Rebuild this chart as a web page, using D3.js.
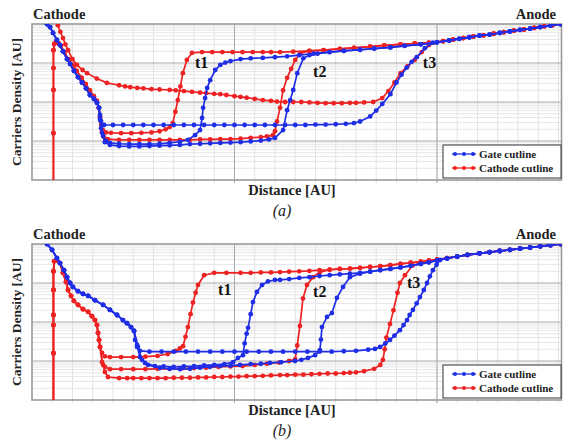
<!DOCTYPE html>
<html>
<head>
<meta charset="utf-8">
<script src="https://cdn.jsdelivr.net/npm/d3@7"></script>
<style>
body { margin: 0; background: #fff; }
text { font-family: "Liberation Serif", "Times New Roman", serif; }
</style>
</head>
<body>
<script>
// x: distance [AU], one unit per minor grid; y: log10 of carriers density [AU]

// ---- panel (a) ----
var gateDescA = [[0.74,4.0],[0.89,3.92],[1.04,3.77],[1.23,3.59],[1.38,3.46],[1.53,3.3],[1.73,3.1],[1.88,2.98],[2.07,2.8],[2.27,2.64],[2.47,2.5],[2.67,2.35],[2.86,2.18],[3.06,2.08],[3.21,1.98],[3.31,1.85]];
var gateTailA = [[13.2,3.2],[13.9,3.24],[14.7,3.28],[15.4,3.31],[16.2,3.34],[16.9,3.37],[17.7,3.4],[18.4,3.44],[19.2,3.48],[20.0,3.53],[20.6,3.58],[21.1,3.62],[21.6,3.66],[22.1,3.7],[22.6,3.73],[23.1,3.77],[23.6,3.81],[24.1,3.85],[24.6,3.88],[25.1,3.92],[25.6,3.96],[26.1,4.0]];
var gateA_t1 = [[3.36,1.59],[3.41,1.33],[3.51,1.13],[3.65,1.0],[3.85,0.95],[4.3,0.93],[4.8,0.92],[5.3,0.92],[5.8,0.92],[6.3,0.93],[6.8,0.95],[7.3,0.98],[7.7,1.03],[8.05,1.15],[8.3,1.28],[8.4,1.59],[8.45,1.85],[8.55,2.1],[8.65,2.36],[8.8,2.56],[9.05,2.82],[9.3,2.95],[9.55,3.01],[9.8,3.05],[10.3,3.1],[10.8,3.12],[11.4,3.13],[12.0,3.15],[12.6,3.17]];
var gateA_t2 = [[3.36,1.54],[3.46,1.21],[3.6,0.97],[3.85,0.9],[4.3,0.87],[4.8,0.86],[5.3,0.86],[5.8,0.87],[6.3,0.88],[6.8,0.89],[7.3,0.9],[7.8,0.92],[8.3,0.93],[8.8,0.94],[9.3,0.95],[9.8,0.96],[10.3,0.97],[10.8,0.99],[11.3,1.01],[11.7,1.04],[12.0,1.08],[12.4,1.28],[12.6,1.79],[12.75,2.05],[12.9,2.31],[13.1,2.74],[13.4,3.12],[13.7,3.2],[14.1,3.24]];
var gateA_t3 = [[3.36,1.67],[3.41,1.51],[3.56,1.41],[4.0,1.41],[4.5,1.41],[5.0,1.41],[5.5,1.41],[6.0,1.41],[6.5,1.41],[7.0,1.41],[7.5,1.41],[8.0,1.41],[8.5,1.41],[9.0,1.41],[9.5,1.41],[10.0,1.41],[10.5,1.41],[11.0,1.41],[11.5,1.41],[12.0,1.41],[12.5,1.41],[13.0,1.41],[13.5,1.41],[14.0,1.42],[14.5,1.42],[15.0,1.43],[15.5,1.44],[15.9,1.46],[16.2,1.5],[16.7,1.63],[17.0,1.78],[17.3,1.95],[17.7,2.2],[18.0,2.5],[18.25,2.7],[18.5,2.88],[18.75,3.03],[19.0,3.15],[19.4,3.38],[19.8,3.52]];

var cathDescA = [[1.06,-0.6],[1.06,1.2],[1.06,2.31],[1.06,2.87],[1.06,3.33],[1.1,3.49],[1.19,3.54],[1.3,3.51],[1.43,3.44],[1.6,3.28],[1.8,3.1],[2.0,2.95],[2.2,2.8],[2.45,2.62],[2.65,2.46],[2.85,2.3],[3.05,2.15],[3.2,2.03],[3.3,1.85],[3.36,1.62]];
var cathTailA = [[12.25,3.28],[12.9,3.29],[13.7,3.31],[14.4,3.33],[15.2,3.36],[15.9,3.39],[16.7,3.42],[17.4,3.45],[18.2,3.48],[18.9,3.5],[19.6,3.52],[20.3,3.56],[20.8,3.6],[21.3,3.64],[21.8,3.68],[22.3,3.71],[22.8,3.75],[23.3,3.79],[23.8,3.83],[24.3,3.86],[24.8,3.9],[25.3,3.94],[25.7,3.97],[26.1,4.0]];
var cathA_t1 = [[3.42,1.41],[3.5,1.28],[3.65,1.22],[3.9,1.21],[4.4,1.2],[4.9,1.2],[5.4,1.21],[5.9,1.22],[6.3,1.25],[6.6,1.3],[6.8,1.36],[6.95,1.46],[7.08,1.75],[7.2,2.05],[7.33,2.4],[7.45,2.74],[7.65,3.08],[7.9,3.26],[8.4,3.28],[8.9,3.28],[9.4,3.28],[9.9,3.28],[10.4,3.28],[10.9,3.28],[11.4,3.28],[11.8,3.28]];
var cathA_t2 = [[3.45,1.23],[3.55,1.1],[3.75,1.05],[4.3,1.03],[4.8,1.03],[5.3,1.03],[5.8,1.03],[6.3,1.03],[6.8,1.03],[7.3,1.03],[7.8,1.03],[8.3,1.04],[8.8,1.04],[9.3,1.05],[9.8,1.05],[10.3,1.06],[10.8,1.08],[11.3,1.1],[11.6,1.12],[11.9,1.15],[12.0,1.25],[12.1,1.5],[12.25,1.85],[12.4,2.3],[12.6,2.62],[12.8,2.85],[13.0,3.08],[13.25,3.25]];
var cathA_t3 = [[1.2,4.1],[1.28,3.97],[1.4,3.8],[1.53,3.64],[1.65,3.48],[1.78,3.33],[2.0,3.1],[2.22,2.95],[2.5,2.82],[2.72,2.74],[3.2,2.6],[3.7,2.49],[4.3,2.43],[4.6,2.4],[4.85,2.38],[5.2,2.36],[5.5,2.35],[5.9,2.33],[6.3,2.32],[6.8,2.31],[7.1,2.3],[7.5,2.28],[7.9,2.26],[8.3,2.24],[8.6,2.23],[9.0,2.21],[9.3,2.2],[9.6,2.18],[10.0,2.15],[10.3,2.13],[10.6,2.11],[11.0,2.08],[11.4,2.05],[11.8,2.03],[12.1,2.01],[12.5,2.0],[12.9,2.0],[13.3,2.0],[13.7,1.99],[14.1,1.98],[14.5,1.97],[14.9,1.97],[15.3,1.97],[15.7,1.98],[16.0,1.98],[16.4,1.99],[16.85,2.0],[17.3,2.1],[17.6,2.28],[17.9,2.5],[18.2,2.74],[18.55,2.92],[18.9,3.08],[19.25,3.28],[19.6,3.46]];

// ---- panel (b) ----
var gateDescB = [[0.74,4.0],[0.99,3.85],[1.23,3.64],[1.38,3.51],[1.58,3.33],[1.73,3.15],[1.88,3.0],[2.02,2.9],[2.27,2.79],[2.52,2.72],[2.77,2.67],[3.11,2.56],[3.51,2.44],[3.85,2.31],[4.2,2.18],[4.49,2.05],[4.69,1.97],[4.89,1.87],[5.04,1.77]];
var gateTailB = [[12.25,3.08],[12.7,3.1],[13.2,3.13],[13.7,3.15],[14.2,3.18],[14.7,3.2],[15.2,3.22],[15.7,3.24],[16.2,3.26],[16.7,3.29],[17.2,3.33],[17.7,3.36],[18.2,3.4],[18.7,3.44],[19.2,3.49],[19.6,3.53],[20.0,3.58],[20.5,3.63],[21.0,3.68],[21.5,3.72],[22.1,3.76],[22.6,3.79],[23.1,3.82],[23.6,3.85],[24.1,3.88],[24.6,3.91],[25.1,3.94],[25.6,3.97],[26.1,4.0]];
var gateB_t1 = [[5.19,1.41],[5.33,1.1],[5.58,0.95],[6.07,0.87],[6.5,0.86],[7.0,0.85],[7.5,0.86],[8.0,0.87],[8.5,0.89],[9.0,0.9],[9.5,0.92],[9.93,0.97],[10.17,1.08],[10.42,1.15],[10.5,1.45],[10.6,1.7],[10.67,1.85],[10.8,2.2],[10.91,2.51],[11.11,2.77],[11.36,2.95],[11.65,3.04],[12.0,3.08]];
var gateB_t2 = [[5.23,1.36],[5.43,1.03],[5.73,0.9],[6.32,0.82],[6.8,0.8],[7.31,0.79],[7.8,0.8],[8.3,0.83],[8.79,0.85],[9.3,0.87],[9.8,0.88],[10.27,0.9],[10.8,0.92],[11.3,0.93],[11.75,0.95],[12.3,0.97],[12.99,1.0],[13.3,1.03],[13.63,1.08],[13.98,1.15],[14.22,1.28],[14.27,1.55],[14.32,1.87],[14.57,2.13],[14.81,2.23],[15.06,2.62],[15.36,2.9],[15.7,3.15],[16.2,3.24]];
var gateB_t3 = [[5.09,1.54],[5.19,1.36],[5.33,1.26],[5.8,1.24],[6.4,1.24],[7.0,1.24],[7.6,1.24],[8.2,1.24],[8.8,1.24],[9.4,1.24],[10.0,1.24],[10.6,1.24],[11.2,1.24],[11.8,1.24],[12.4,1.24],[13.0,1.24],[13.6,1.24],[14.2,1.24],[14.8,1.24],[15.4,1.25],[16.0,1.26],[16.6,1.29],[16.94,1.31],[17.19,1.36],[17.45,1.45],[17.68,1.54],[17.9,1.65],[18.17,1.79],[18.35,1.92],[18.52,2.05],[18.65,2.18],[18.81,2.31],[19.0,2.48],[19.16,2.64],[19.35,2.82],[19.51,3.0],[19.65,3.17],[19.8,3.33],[19.98,3.47],[20.15,3.59]];

var cathDescB = [[1.06,-0.6],[1.06,1.2],[1.06,1.92],[1.06,2.18],[1.06,2.82],[1.06,3.3],[1.1,3.56],[1.23,3.59],[1.38,3.51],[1.53,3.26],[1.68,3.03],[1.78,2.82],[1.93,2.67],[2.07,2.54],[2.27,2.44],[2.52,2.33],[2.77,2.26],[2.96,2.15],[3.11,2.05],[3.21,1.92],[3.26,1.72],[3.31,1.54],[3.36,1.36]];
var cathTailB = [[10.3,3.26],[10.8,3.26],[11.3,3.27],[11.8,3.27],[12.25,3.28],[12.7,3.29],[13.2,3.3],[13.7,3.31],[14.2,3.33],[14.7,3.34],[15.2,3.36],[15.7,3.37],[16.2,3.39],[16.7,3.41],[17.2,3.43],[17.7,3.46],[18.2,3.49],[18.7,3.52],[19.2,3.55],[19.6,3.57],[20.0,3.6],[20.5,3.64],[21.0,3.68],[21.5,3.72],[22.1,3.76],[22.6,3.79],[23.1,3.82],[23.6,3.85],[24.1,3.88],[24.6,3.91],[25.1,3.94],[25.6,3.97],[26.1,4.0]];
var cathB_t1 = [[3.46,1.21],[3.6,1.12],[3.85,1.1],[4.4,1.1],[5.0,1.1],[5.6,1.11],[6.2,1.13],[6.7,1.18],[7.1,1.26],[7.3,1.32],[7.46,1.38],[7.58,1.62],[7.7,1.87],[7.83,2.2],[7.95,2.5],[8.08,2.75],[8.2,2.95],[8.5,3.2],[9.0,3.26],[9.6,3.26]];
var cathB_t2 = [[3.46,0.97],[3.6,0.85],[3.85,0.79],[4.4,0.79],[5.0,0.79],[5.6,0.79],[6.2,0.8],[6.8,0.8],[7.4,0.81],[8.0,0.82],[8.6,0.83],[9.2,0.85],[9.8,0.86],[10.4,0.87],[11.0,0.9],[11.6,0.93],[12.2,0.96],[12.7,1.0],[13.0,1.05],[13.1,1.4],[13.23,1.9],[13.38,2.6],[13.58,2.95],[13.88,3.15],[14.22,3.28]];
var cathB_t3 = [[3.51,0.9],[3.6,0.72],[3.75,0.59],[4.3,0.56],[4.7,0.56],[5.0,0.56],[5.4,0.56],[5.8,0.56],[6.2,0.56],[6.6,0.56],[7.0,0.57],[7.4,0.57],[7.8,0.57],[8.2,0.58],[8.6,0.58],[9.0,0.59],[9.4,0.59],[9.8,0.6],[10.2,0.6],[10.6,0.61],[11.0,0.61],[11.4,0.62],[11.8,0.63],[12.25,0.64],[12.6,0.64],[13.0,0.65],[13.4,0.65],[13.8,0.66],[14.2,0.67],[14.6,0.68],[15.0,0.68],[15.4,0.69],[15.7,0.7],[16.0,0.71],[16.4,0.74],[16.9,0.8],[17.2,0.9],[17.33,1.03],[17.42,1.3],[17.5,1.6],[17.68,1.95],[17.85,2.3],[18.05,2.75],[18.17,3.0],[18.42,3.2],[18.8,3.45],[19.2,3.52]];

// time labels [text, x, log10 n]
var tLabelsA = [["t1", 8.05, 2.87], ["t2", 13.88, 2.64], ["t3", 19.3, 2.87]];
var tLabelsB = [["t1", 9.19, 2.69], ["t2", 13.88, 2.64], ["t3", 18.52, 2.87]];

var legendLabels = ["Gate cutline", "Cathode cutline"];
var BLUE = "#1f2ee6", RED = "#ee2222";

function join(head, mid, tail){
	var pts = head.concat(mid);
	var last = pts[pts.length-1][0];
	return pts.concat(tail.filter(function(d){ return d[0] > last; }));
}

var svg = d3.select("body").append("svg")
	.attr("width", 563)
	.attr("height", 445);

function drawPanel(top, gate, cath, tLabels, letter, id){
	var x = d3.scaleLinear().domain([0, 26.15]).range([32, 561.5]);
	var y = d3.scaleLinear().domain([0, 4]).range([top + 156, top]);
	var g = svg.append("g");

	g.append("clipPath").attr("id", id)
		.append("rect")
		.attr("x", x(0)).attr("y", y(4))
		.attr("width", x(26.15) - x(0)).attr("height", y(0) - y(4));

	// grid
	var minorY = [];
	for(var n = 0; n < 4; n++){
		for(var k = 2; k < 10; k++) minorY.push(n + Math.log10(k));
	}
	g.selectAll(".vminor").data(d3.range(1, 27)).enter().append("line")
		.attr("x1", function(d){ return x(d); }).attr("x2", function(d){ return x(d); })
		.attr("y1", y(4)).attr("y2", y(0) + 3)
		.attr("stroke", "#e2e2e2").attr("stroke-width", 1);
	g.selectAll(".hminor").data(minorY).enter().append("line")
		.attr("x1", x(0)).attr("x2", x(26.15))
		.attr("y1", function(d){ return y(d); }).attr("y2", function(d){ return y(d); })
		.attr("stroke", "#e6e6e6").attr("stroke-width", 1);
	g.selectAll(".vmajor").data([10, 20]).enter().append("line")
		.attr("x1", function(d){ return x(d); }).attr("x2", function(d){ return x(d); })
		.attr("y1", y(4)).attr("y2", y(0) + 3)
		.attr("stroke", "#a8a8a8").attr("stroke-width", 1);
	g.selectAll(".hmajor").data([1, 2, 3]).enter().append("line")
		.attr("x1", x(0)).attr("x2", x(26.15))
		.attr("y1", function(d){ return y(d); }).attr("y2", function(d){ return y(d); })
		.attr("stroke", "#a8a8a8").attr("stroke-width", 1);

	g.append("rect")
		.attr("x", x(0)).attr("y", y(4))
		.attr("width", x(26.15) - x(0)).attr("height", y(0) - y(4))
		.attr("fill", "none").attr("stroke", "#9a9a9a").attr("stroke-width", 1.6);

	var line = d3.line().x(function(d){ return x(d[0]); }).y(function(d){ return y(d[1]); });
	var plot = g.append("g").attr("clip-path", "url(#" + id + ")");

	function addSeries(pts, col){
		plot.append("path").datum(pts)
			.attr("d", line)
			.attr("fill", "none").attr("stroke", col).attr("stroke-width", 1.7);
		plot.selectAll(null).data(pts).enter().append("circle")
			.attr("cx", function(d){ return x(d[0]); })
			.attr("cy", function(d){ return y(d[1]); })
			.attr("r", 2.4).attr("fill", col);
	}
	cath.forEach(function(s){ addSeries(s, RED); });
	gate.forEach(function(s){ addSeries(s, BLUE); });

	g.selectAll(".tlab").data(tLabels).enter().append("text")
		.attr("x", function(d){ return x(d[1]); })
		.attr("y", function(d){ return y(d[2]); })
		.attr("font-size", 16).attr("font-weight", "bold").attr("fill", "#111")
		.text(function(d){ return d[0]; });

	// titles
	g.append("text").attr("x", 33).attr("y", top - 5)
		.attr("font-size", 14.5).attr("font-weight", "bold").attr("fill", "#222").text("Cathode");
	g.append("text").attr("x", 556).attr("y", top - 5).attr("text-anchor", "end")
		.attr("font-size", 14.5).attr("font-weight", "bold").attr("fill", "#222").text("Anode");
	g.append("text").attr("transform", "translate(21," + (top + 78) + ") rotate(-90)")
		.attr("text-anchor", "middle")
		.attr("font-size", 13.5).attr("font-weight", "bold").attr("fill", "#222")
		.text("Carriers Density [AU]");
	g.append("text").attr("x", 292).attr("y", top + 171).attr("text-anchor", "middle")
		.attr("font-size", 14.5).attr("font-weight", "bold").attr("fill", "#222").text("Distance [AU]");
	g.append("text").attr("x", 282).attr("y", top + 192).attr("text-anchor", "middle")
		.attr("font-size", 16).attr("font-style", "italic").attr("fill", "#222").text(letter);

	// legend
	var lg = g.append("g").attr("transform", "translate(443," + (top + 121) + ")");
	lg.append("rect").attr("width", 118).attr("height", 33)
		.attr("fill", "#fff").attr("stroke", "#333").attr("stroke-width", 1);
	[BLUE, RED].forEach(function(col, i){
		var ly = 9 + i * 14;
		lg.append("line").attr("x1", 9).attr("x2", 33).attr("y1", ly).attr("y2", ly)
			.attr("stroke", col).attr("stroke-width", 1.3);
		lg.selectAll(null).data([12, 21, 30]).enter().append("circle")
			.attr("cx", function(d){ return d; }).attr("cy", ly).attr("r", 2).attr("fill", col);
		lg.append("text").attr("x", 36).attr("y", ly + 3.5)
			.attr("font-size", 11).attr("font-weight", "bold").attr("fill", "#222")
			.text(legendLabels[i]);
	});
}

drawPanel(24,
	[join(gateDescA, gateA_t1, gateTailA), join(gateDescA, gateA_t2, gateTailA), join(gateDescA, gateA_t3, gateTailA)],
	[join(cathDescA, cathA_t1, cathTailA), join(cathDescA, cathA_t2, cathTailA), join([], cathA_t3, cathTailA)],
	tLabelsA, "(a)", "clipA");

drawPanel(244,
	[join(gateDescB, gateB_t1, gateTailB), join(gateDescB, gateB_t2, gateTailB), join(gateDescB, gateB_t3, gateTailB)],
	[join(cathDescB, cathB_t1, cathTailB), join(cathDescB, cathB_t2, cathTailB), join(cathDescB, cathB_t3, cathTailB)],
	tLabelsB, "(b)", "clipB");
</script>
</body>
</html>
